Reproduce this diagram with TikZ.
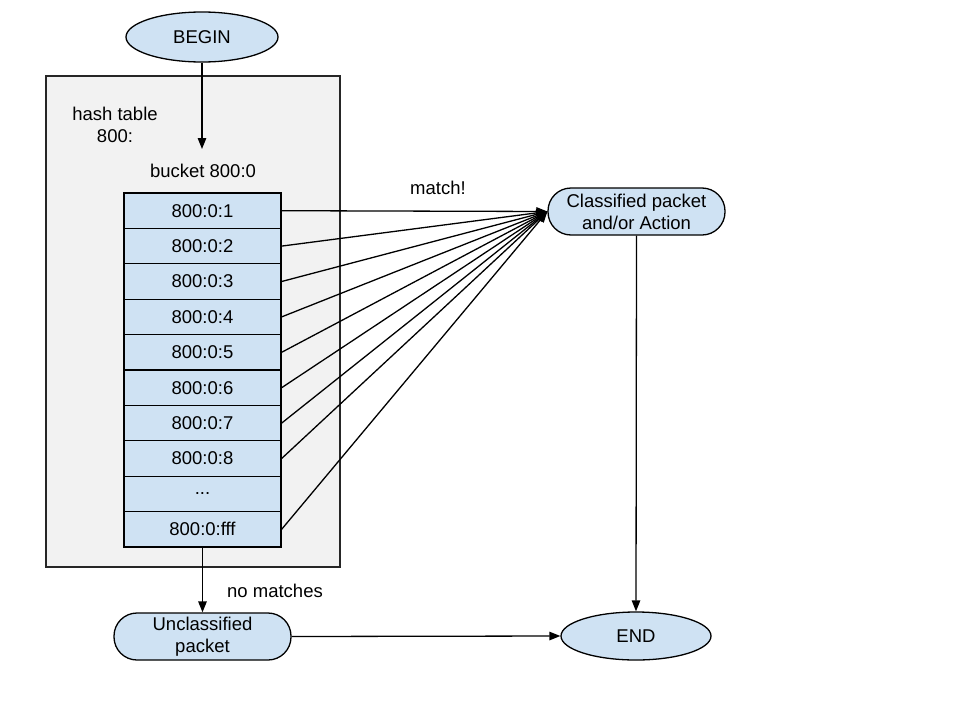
\documentclass[tikz,border=0pt]{standalone}
\usepackage{fontspec}
\setmainfont{Liberation Sans}
\usetikzlibrary{arrows.meta,shapes.geometric}
\definecolor{nodeblue}{HTML}{CFE2F3}
\definecolor{boxgray}{HTML}{F2F2F2}
\newcommand\mydotstext{...}
\begin{document}
\begin{tikzpicture}[x=1pt,y=-1pt,
  every node/.style={font=\fontsize{18.5}{22}\selectfont},
  arr/.style={line width=1.3pt,-{Triangle[length=11pt,width=8.5pt]}},
  ell/.style={ellipse,draw,line width=1.3pt,fill=nodeblue,inner sep=0pt},
  stad/.style={rectangle,draw,line width=1.3pt,fill=nodeblue,rounded corners=23pt,minimum width=177pt,minimum height=47pt,align=center,inner sep=0pt},
  cell/.style={rectangle,draw,line width=1.3pt,fill=nodeblue,minimum width=157pt,minimum height=35.4pt,inner sep=0pt},
  plain/.style={inner sep=0pt,align=center}]
\useasboundingbox (0,0) rectangle (960,720);
% hash table box
\node[rectangle,draw=black!85,line width=1.2pt,fill=boxgray,minimum width=294pt,minimum height=491pt,inner sep=0pt] (ht) at (193,321.5) {};
\node[plain] (htl) at (115,125) {hash table\\800:};
\node[plain] (bkt) at (203,171) {bucket 800:0};
% BEGIN
\node[ell,minimum width=152pt,minimum height=50pt] (begin) at (202,37) {BEGIN};
\coordinate (bin) at (202,149);
\draw[arr] (begin.south) -- (bin);
% cells
\foreach \i/\t in {1/800:0:1,2/800:0:2,3/800:0:3,4/800:0:4,5/800:0:5,6/800:0:6,7/800:0:7,8/800:0:8,9/\mydotstext,10/800:0:fff}{
  \node[cell] (c\i) at (202.5,{193+35.4*(\i-0.5)}) {\t};
}
% classified
\node[stad] (cls) at (636.5,211.5) {Classified packet\\and/or Action};
\node[plain] (match) at (438,188) {match!};
\foreach \i in {1,2,3,4,5,6,7,8,10}{
  \draw[arr] (c\i.east) -- (cls.west);
}
% END
\node[ell,minimum width=150pt,minimum height=48pt] (end) at (636,636) {END};
\draw[arr] (cls.south) -- (end.north);
% unclassified
\node[stad] (unc) at (202.5,636.5) {Unclassified\\packet};
\draw[arr] (c10.south) -- (unc.north);
\node[plain] (nom) at (275,591) {no matches};
\draw[arr] (unc.east) -- (end.west);
\end{tikzpicture}
\end{document}
